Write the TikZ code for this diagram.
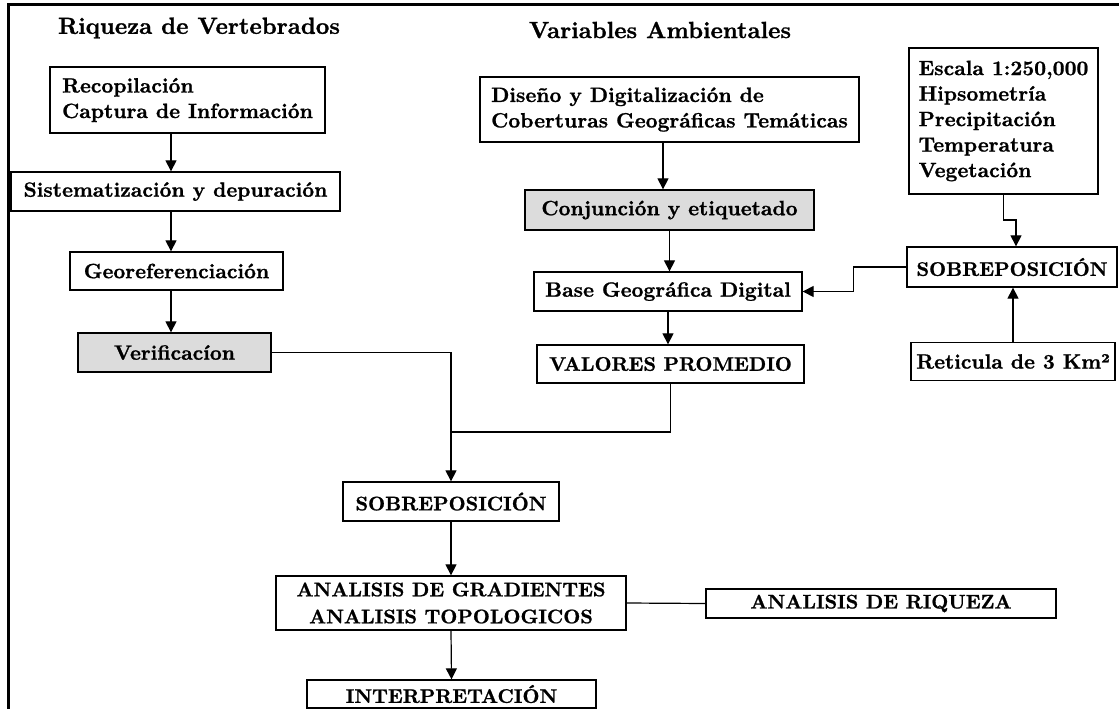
\documentclass[tikz,border=0pt]{standalone}
\usepackage{fontspec}
\setmainfont{lmroman10-regular.otf}[BoldFont=lmroman10-bold.otf,BoldFeatures={FakeBold=1}]
\usepackage{tikz}
\usetikzlibrary{arrows.meta,positioning,calc}
\definecolor{cajagris}{HTML}{DCDCDC}
\tikzset{
  box/.style={draw,line width=1.3pt,inner sep=2pt,align=center,font=\bfseries\fontsize{20.7}{25.5}\selectfont},
  boxgray/.style={box,fill=cajagris},
  mayus/.style={font=\bfseries\fontsize{19.7}{27}\selectfont},
  titulo/.style={inner sep=0pt,font=\bfseries\fontsize{23.4}{28}\selectfont},
  arr/.style={-{Triangle[length=11pt,width=11pt]},line width=1.2pt},
  lin/.style={line width=1.2pt}
}

\begin{document}
\begin{tikzpicture}[x=1pt,y=-1pt]
\useasboundingbox (0,0) rectangle (1119,709);
% marco
\draw[line width=2.5pt] (8.5,709) -- (8.5,4.5) -- (1119,4.5);

% titulos
\node[titulo] (tvert) at (199,28) {Riqueza de Vertebrados};
\node[titulo] (tamb) at (660,30) {Variables Ambientales};

% columna izquierda
\node[box,align=left,minimum width=275pt,minimum height=66pt] (recop) at (187.5,100) {Recopilación\\Captura de Información};
\node[box,minimum width=329pt,minimum height=39pt] (sist) at (175.5,191.5) {Sistematización y depuración};
\node[box,minimum width=213pt,minimum height=38pt] (geo) at (176.5,271) {Georeferenciación};
\node[boxgray,minimum width=193pt,minimum height=39pt] (verif) at (174.5,352.5) {Verificacíon};

% columna central
\node[box,align=left,minimum width=379pt,minimum height=65pt] (diseno) at (669.5,109.5) {Diseño y Digitalización de\\Coberturas Geográficas Temáticas};
\node[boxgray,minimum width=289pt,minimum height=40pt] (conj) at (669.5,210) {Conjunción y etiquetado};
\node[box,minimum width=268pt,minimum height=39pt] (base) at (668,291.5) {Base Geográfica Digital};
\node[box,mayus,minimum width=267pt,minimum height=38pt] (valores) at (670.5,364) {VALORES PROMEDIO};

% columna derecha
\node[box,align=left,minimum width=189pt,minimum height=146pt] (escala) at (1003.5,121) {Escala 1:250,000\\Hipsometría\\Precipitación\\Temperatura\\Vegetación};
\node[box,mayus,minimum width=210pt,minimum height=40pt] (sobreder) at (1012,267) {SOBREPOSICIÓN};
\node[box,minimum width=204pt,minimum height=38pt] (retic) at (1013,361.5) {Reticula de 3 Km²};

% parte inferior
\node[box,mayus,minimum width=216pt,minimum height=39pt] (sobrecen) at (451,501.5) {SOBREPOSICIÓN};
\node[box,mayus,minimum width=350pt,minimum height=54pt] (analisis) at (451,603) {ANALISIS DE GRADIENTES\\ANALISIS TOPOLOGICOS};
\node[box,mayus,minimum width=289pt,minimum height=28pt,inner sep=0pt] (interp) at (451.5,694) {INTERPRETACIÓN};
\node[box,mayus,minimum width=350pt,minimum height=29pt,inner sep=0pt] (riqueza) at (881,603.5) {ANALISIS DE RIQUEZA};

% carriles de las flechas
\coordinate (carrilA) at (171,0);
\coordinate (carrilB) at (663,0);
\coordinate (junta) at (451,432);
\coordinate (codo) at (1016,220);

\draw[arr] (recop.south -| carrilA) -- (sist.north -| carrilA);
\draw[arr] (sist.south -| carrilA) -- (geo.north -| carrilA);
\draw[arr] (geo.south -| carrilA) -- (verif.north -| carrilA);
\draw[arr] (verif.east) -| (sobrecen.north);
\draw[lin] (valores.south) |- (junta);

\draw[arr] (diseno.south -| carrilB) -- (conj.north -| carrilB);
\draw[arr] (conj.south) -- (conj.south |- base.north);
\draw[arr] (base.south) -- (base.south |- valores.north);

\draw[arr] (escala.south) |- (codo) -- (codo |- sobreder.north);
\draw[arr] (sobreder.west) -- ++(-53,0) |- (base.east);
\draw[arr] (retic.north) -- (retic.north |- sobreder.south);

\draw[arr] (sobrecen.south) -- (analisis.north);
\draw[arr] (analisis.south) -- (interp.north);
\draw[lin] (analisis.east) -- (riqueza.west);
\end{tikzpicture}
\end{document}
